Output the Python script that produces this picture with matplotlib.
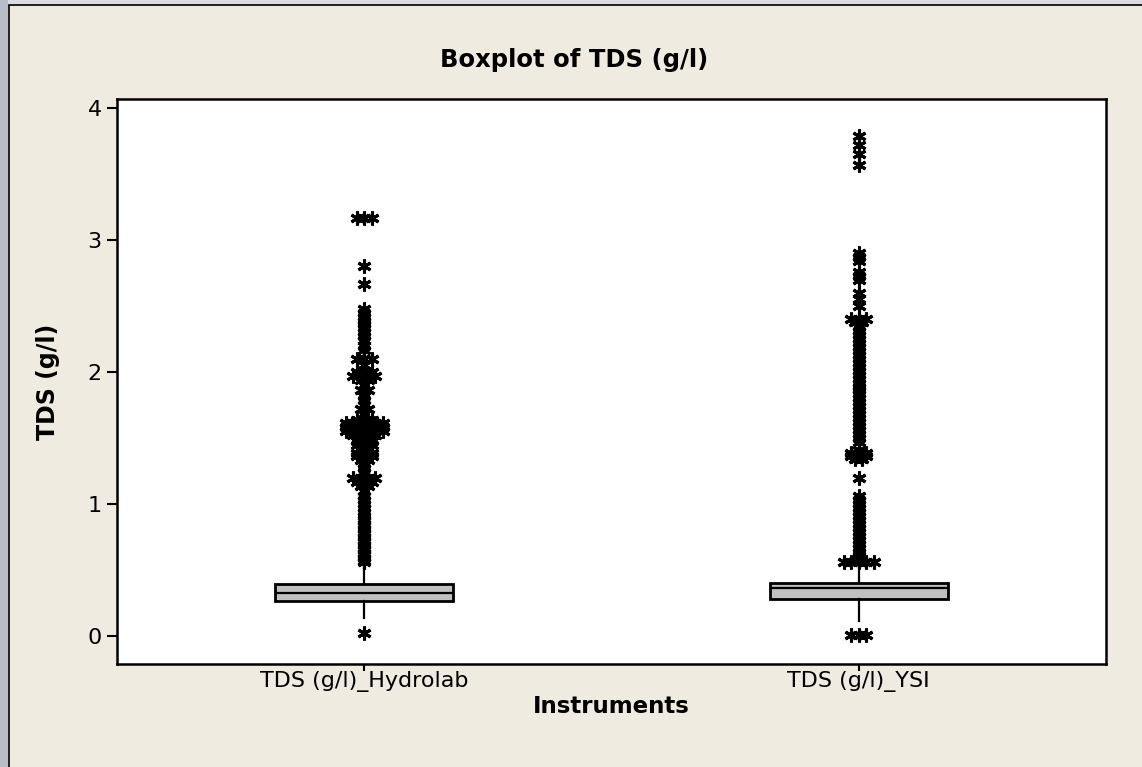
import matplotlib
matplotlib.use("Agg")
import matplotlib.pyplot as plt
from matplotlib.patches import Rectangle
import numpy as np
from collections import Counter

# ---------------- data ----------------
categories = ["TDS (g/l)_Hydrolab", "TDS (g/l)_YSI"]

q1 = [0.265, 0.28]
median = [0.326, 0.362]
q3 = [0.394, 0.40]
whisker_low = [0.14, 0.11]
whisker_high = [0.55, 0.55]

outliers_hydrolab = [
    3.17, 3.17, 3.17,
    2.80, 2.67,
    2.48, 2.45, 2.42, 2.39, 2.36, 2.33, 2.30, 2.27, 2.24, 2.20, 2.17,
    2.10, 2.10, 2.10, 2.05,
    2.00, 2.00, 2.00, 1.97, 1.97, 1.97, 1.97, 1.94, 1.94, 1.90, 1.86, 1.86, 1.82, 1.79,
    1.75, 1.72, 1.72, 1.68,
    1.64, 1.64, 1.64, 1.61, 1.61, 1.61, 1.61, 1.61, 1.61,
    1.58, 1.58, 1.58, 1.58, 1.58, 1.58, 1.55, 1.55, 1.55, 1.55, 1.55, 1.55,
    1.52, 1.52, 1.52, 1.52, 1.48, 1.48, 1.48, 1.45, 1.45, 1.45, 1.42, 1.42,
    1.39, 1.39, 1.39, 1.36, 1.36, 1.36, 1.33, 1.33, 1.30, 1.27, 1.24,
    1.20, 1.20, 1.20, 1.20, 1.17, 1.17, 1.17, 1.14, 1.14, 1.10, 1.06, 1.03,
    1.00, 0.97, 0.94, 0.91, 0.89, 0.87, 0.85, 0.83, 0.81, 0.79, 0.77, 0.75,
    0.73, 0.71, 0.69, 0.67, 0.65, 0.63, 0.61, 0.59, 0.57, 0.56,
    0.02,
]

outliers_ysi = [
    3.79, 3.72, 3.65, 3.57,
    2.90, 2.87, 2.84, 2.76, 2.73, 2.70, 2.60, 2.55, 2.50,
    2.40, 2.40, 2.40, 2.38, 2.38,
    2.34, 2.31, 2.28, 2.25, 2.22, 2.19, 2.16, 2.13, 2.10, 2.07, 2.04, 2.01,
    1.98, 1.95, 1.92, 1.89, 1.86, 1.83, 1.80, 1.77, 1.74, 1.71, 1.68, 1.65,
    1.62, 1.59, 1.56, 1.53, 1.50, 1.47,
    1.41, 1.39, 1.39, 1.39, 1.36, 1.36, 1.36, 1.34, 1.34,
    1.20,
    1.06, 1.03, 1.00, 0.97, 0.94, 0.91, 0.88, 0.85, 0.82, 0.79, 0.76, 0.73,
    0.70, 0.67, 0.64, 0.61, 0.58,
    0.56, 0.56, 0.56, 0.56, 0.56,
    0.01, 0.01, 0.01,
]

outliers = [outliers_hydrolab, outliers_ysi]
yticks = [0, 1, 2, 3, 4]

# ---------------- figure ----------------
W, H = 1142, 767
fig = plt.figure(figsize=(W / 100, H / 100), dpi=100)
fig.patch.set_facecolor("#D9DCE4")
# beige slide panel
fig.patches.append(Rectangle((9 / W, -0.01), 1, 1 - 5 / H + 0.01,
                             transform=fig.transFigure,
                             facecolor="#EFEBE1", edgecolor="black", lw=1.2,
                             zorder=-10))
# left photo strip
fig.patches.append(Rectangle((0, 0), 8 / W, 1, transform=fig.transFigure,
                             facecolor="#B9BDC5", edgecolor="none", zorder=-10))

ax = fig.add_axes([117 / W, 1 - 664 / H, (1106 - 117) / W, (664 - 99) / H])
ax.set_zorder(5)
ax.set_facecolor("white")

positions = [1, 2]
stats = []
for i in range(2):
    stats.append(dict(med=median[i], q1=q1[i], q3=q3[i],
                      whislo=whisker_low[i], whishi=whisker_high[i],
                      fliers=[], label=categories[i]))

ax.bxp(stats, positions=positions, widths=0.36, patch_artist=True,
       showcaps=False, showfliers=False,
       boxprops=dict(facecolor="#C0C0C0", edgecolor="black", linewidth=2.0),
       medianprops=dict(color="black", linewidth=1.6),
       whiskerprops=dict(color="black", linewidth=1.6))

# outliers: identical values spread side by side
spacing = 0.015
for i, vals in enumerate(outliers):
    counts = Counter(vals)
    xs, ys = [], []
    for v, n in counts.items():
        for k in range(n):
            xs.append(positions[i] + (k - (n - 1) / 2) * spacing)
            ys.append(v)
    ax.plot(xs, ys, linestyle="none", marker=(6, 2, 0), markersize=10,
            markeredgewidth=2.2, color="black", zorder=5)

ax.set_xlim(0.5, 2.5)
ax.set_ylim(-0.212, 4.068)
ax.set_yticks(yticks)
ax.set_xticks(positions)
ax.set_xticklabels(categories)
for s in ax.spines.values():
    s.set_linewidth(1.8)
ax.tick_params(axis="y", direction="out", length=7, width=1.5,
               labelsize=16, pad=4)
ax.tick_params(axis="x", direction="out", length=5, width=1.5,
               labelsize=16, pad=0)

ax.set_ylabel("TDS (g/l)", fontsize=17, fontweight="bold", labelpad=20)
ax.set_xlabel("Instruments", fontsize=16.5, fontweight="bold", labelpad=2)
fig.text(574 / W, 1 - 60 / H, "Boxplot of TDS (g/l)", fontsize=17.5,
         fontweight="bold", ha="center", va="center")

fig.savefig("out.png", dpi=100, facecolor=fig.get_facecolor())
